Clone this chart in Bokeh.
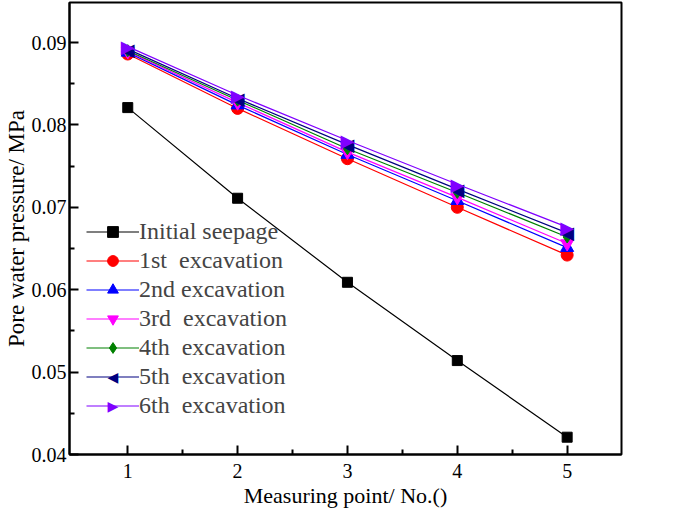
import math
from bokeh.plotting import figure
from bokeh.models import Legend, LegendItem, FixedTicker, CustomJSTickFormatter, Label
from bokeh.core.properties import value
from bokeh.embed import file_html
from bokeh.resources import INLINE

x = [1, 2, 3, 4, 5]
initial = [0.0821, 0.0711, 0.0609, 0.0514, 0.0421]
exc1 = [0.0886, 0.0820, 0.0759, 0.0700, 0.0642]
exc2 = [0.0888, 0.0824, 0.0764, 0.0708, 0.0651]
exc3 = [0.0889, 0.0827, 0.0767, 0.0712, 0.0656]
exc4 = [0.0890, 0.0830, 0.0771, 0.0718, 0.0664]
exc5 = [0.0892, 0.0832, 0.0776, 0.0722, 0.0669]
exc6 = [0.0895, 0.0836, 0.0781, 0.0728, 0.0676]
labels = ["Initial seepage", "1st  excavation", "2nd excavation", "3rd  excavation",
          "4th  excavation", "5th  excavation", "6th  excavation"]
series = [initial, exc1, exc2, exc3, exc4, exc5, exc6]
colors = ["#000000", "#FF0000", "#0000FF", "#FF00FF", "#008000", "#000080", "#8000FF"]
# None -> drawn as a text symbol (left / right pointing triangles)
markers = ["square", "circle", "triangle", "inverted_triangle", "diamond", None, None]
symbols = [None, None, None, None, None, "\u25C0", "\u25B6"]
sizes = [10, 12, 13, 13, 12, 13, 13]
x_title = "Measuring point/ No.()"
y_title = "Pore water pressure/ MPa"

SERIF = "Liberation Serif"
SYMFONT = "DejaVu Sans"

W, H = 685, 511
# frame placement (page px)
L, R, T, B = 69.5, 621.0, 2.0, 454.0
px_per_x = 109.75
x_start = 1 - (127.7 - L) / px_per_x
x_end = 5 + (R - 566.7) / px_per_x
y_top = 0.09 + (42 - T) * 0.05 / (B - 42)

p = figure(width=W, height=H, x_range=(x_start, x_end), y_range=(0.04, y_top),
           output_backend="svg", toolbar_location=None,
           min_border_left=int(L), min_border_top=int(T), min_border_right=int(W - R),
           min_border_bottom=int(H - B))
p.grid.visible = False
p.outline_line_color = "black"
p.outline_line_width = 2

# legend geometry (screen units from frame bottom-left)
leg_x, leg_y = 17, 35
row_h, row_gap, glyph_w = 27, 2, 53
n_items = len(labels)
leg_h = n_items * row_h + (n_items - 1) * row_gap

items = []
for i, (s, c, m, sym, sz, lab) in enumerate(zip(series, colors, markers, symbols, sizes, labels)):
    ln = p.line(x, s, line_color=c, line_width=1.2)
    rends = [ln]
    if m is not None:
        sc = p.scatter(x, s, marker=m, size=sz, fill_color=c, line_color=c)
        rends.append(sc)
    else:
        p.text(x, s, text=[sym] * len(x), text_align="center", text_baseline="middle",
               text_font=value(SYMFONT), text_font_size="18px", text_color=c)
        p.add_layout(Label(x=leg_x + glyph_w / 2, y=leg_y + leg_h - row_h / 2 - i * (row_h + row_gap),
                           x_units="screen", y_units="screen", text=sym,
                           text_align="center", text_baseline="middle",
                           text_font=SYMFONT, text_font_size="14px", text_color=c))
    items.append(LegendItem(label=lab, renderers=rends))

legend = Legend(items=items, location=(leg_x, leg_y), border_line_color=None,
                background_fill_alpha=0, label_text_font=SERIF,
                label_text_font_size="24px", label_height=row_h, glyph_height=row_h,
                glyph_width=glyph_w, spacing=row_gap, label_standoff=0, padding=0, margin=0)
p.add_layout(legend)

p.xaxis.ticker = FixedTicker(ticks=[1, 2, 3, 4, 5], minor_ticks=[1.5, 2.5, 3.5, 4.5])
p.yaxis.ticker = FixedTicker(ticks=[0.04, 0.05, 0.06, 0.07, 0.08, 0.09],
                             minor_ticks=[0.045, 0.055, 0.065, 0.075, 0.085])
p.yaxis.formatter = CustomJSTickFormatter(code="return tick.toFixed(2);")

for ax in (p.xaxis[0], p.yaxis[0]):
    ax.axis_line_width = 2
    ax.axis_line_color = "black"
    ax.major_tick_in = 9
    ax.major_tick_out = 0
    ax.minor_tick_in = 5
    ax.minor_tick_out = 0
    ax.major_tick_line_width = 2
    ax.minor_tick_line_width = 2
    ax.major_label_text_font = SERIF
    ax.major_label_text_font_size = "20px"
    ax.major_label_text_color = "black"
    ax.axis_label_text_font = SERIF
    ax.axis_label_text_font_style = "normal"
    ax.axis_label_text_color = "black"

p.xaxis.axis_label = x_title
p.yaxis.axis_label = y_title
p.xaxis.axis_label_text_font_size = "22px"
p.yaxis.axis_label_text_font_size = "23px"
p.xaxis.major_label_standoff = 9
p.xaxis.axis_label_standoff = 2
p.yaxis.major_label_standoff = 3
p.yaxis.axis_label_standoff = 0

open("out.html", "w").write(file_html(p, INLINE))
